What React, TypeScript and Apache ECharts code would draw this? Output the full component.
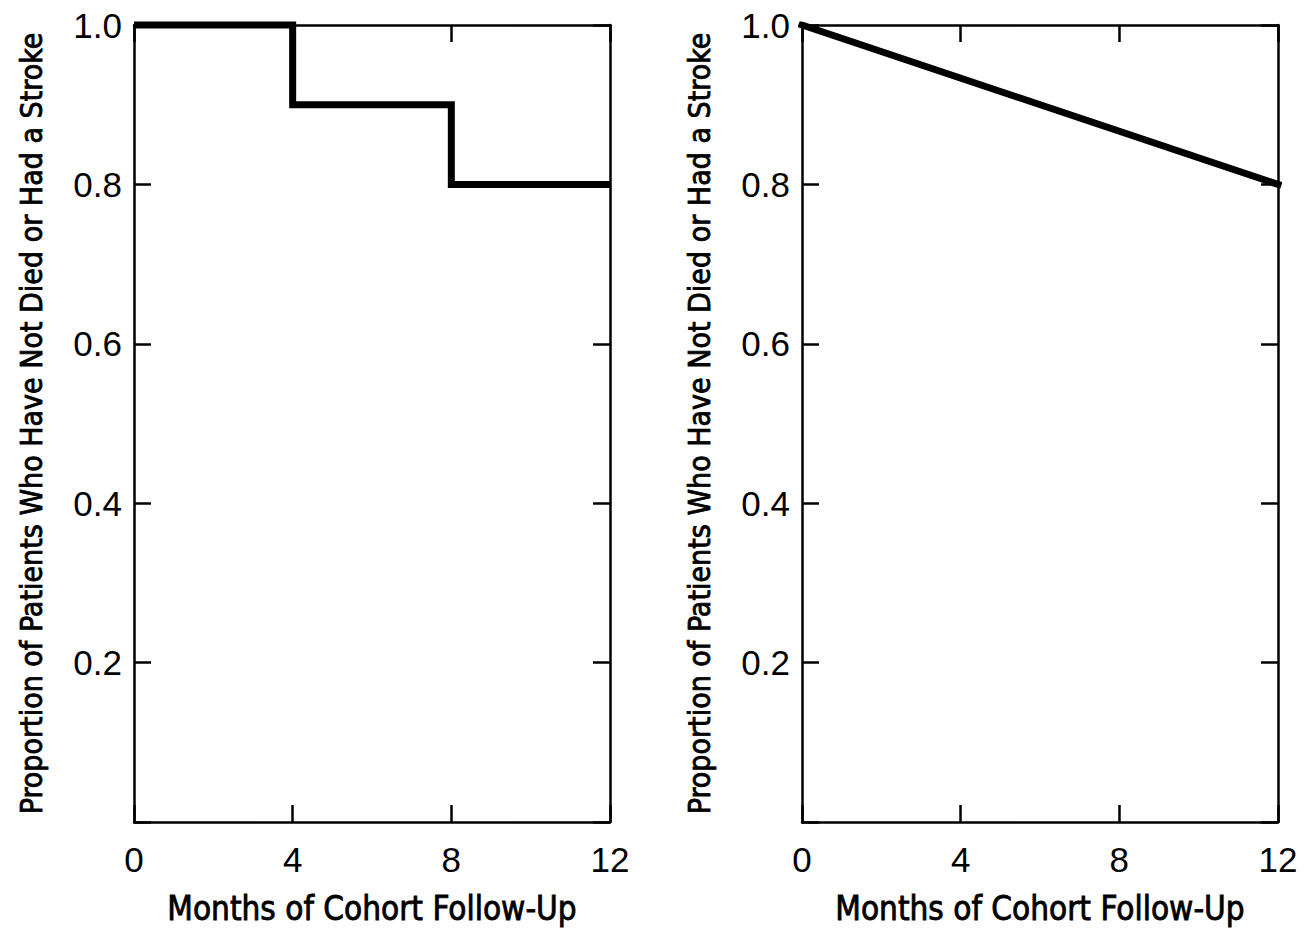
import React, { useEffect, useRef } from "react";
import * as echarts from "echarts";

const xTicks = [0, 4, 8, 12];
const yTickLabels = ["", "0.2", "0.4", "0.6", "0.8", "1.0"];
const stepSurvival: [number, number][] = [
  [0, 1.0],
  [4, 0.9],
  [8, 0.8],
  [12, 0.8],
];
const linearSurvival: [number, number][] = [
  [0, 1.0],
  [12, 0.8],
];
const yTitle = "Proportion of Patients Who Have Not Died or Had a Stroke";
const xTitle = "Months of Cohort Follow-Up";

const tickFont = "'Liberation Sans', Arial, sans-serif";
const titleFont = "'Liberation Sans Narrow', 'DejaVu Sans Condensed', sans-serif";

export default function App() {
  const ref = useRef<HTMLDivElement>(null);
  useEffect(() => {
    document.body.style.margin = "0";
    if (!ref.current) return;
    const chart = echarts.init(ref.current, null, { renderer: "svg" });
    const lineStyle = { color: "#000", width: 2.5 };
    const grids = [
      { left: 134, top: 25, width: 476, height: 797 },
      { left: 802, top: 25, width: 476, height: 797 },
    ];
    const titleStyle = {
      fontFamily: titleFont,
      color: "#000",
      textBorderColor: "#000",
      textBorderWidth: 0.8,
    };
    const xAxes: any[] = [];
    const yAxes: any[] = [];
    grids.forEach((_, gi) => {
      xAxes.push({
        type: "value",
        gridIndex: gi,
        position: "bottom",
        min: 0,
        max: 12,
        interval: 4,
        name: xTitle,
        nameLocation: "middle",
        nameGap: 70,
        nameTextStyle: { ...titleStyle, fontSize: 33 },
        axisLine: { show: true, onZero: false, lineStyle },
        axisTick: { show: true, inside: true, length: 17, lineStyle },
        axisLabel: {
          margin: 20,
          fontFamily: tickFont,
          fontSize: 35,
          color: "#000",
          formatter: (v: number) => (xTicks.includes(v) ? String(v) : ""),
        },
        splitLine: { show: false },
      });
      xAxes.push({
        type: "value",
        gridIndex: gi,
        position: "top",
        min: 0,
        max: 12,
        interval: 4,
        axisLine: { show: true, onZero: false, lineStyle },
        axisTick: { show: true, inside: true, length: 17, lineStyle },
        axisLabel: { show: false },
        splitLine: { show: false },
      });
      yAxes.push({
        type: "value",
        gridIndex: gi,
        position: "left",
        min: 0,
        max: 1,
        interval: 0.2,
        name: yTitle,
        nameLocation: "middle",
        nameGap: 88,
        nameTextStyle: { ...titleStyle, fontSize: 30 },
        axisLine: { show: true, onZero: false, lineStyle },
        axisTick: { show: true, inside: true, length: 17, lineStyle },
        axisLabel: {
          margin: 12,
          fontFamily: tickFont,
          fontSize: 35,
          color: "#000",
          formatter: (_v: number, i: number) => yTickLabels[i] ?? "",
        },
        splitLine: { show: false },
      });
      yAxes.push({
        type: "value",
        gridIndex: gi,
        position: "right",
        min: 0,
        max: 1,
        interval: 0.2,
        axisLine: { show: true, onZero: false, lineStyle },
        axisTick: { show: true, inside: true, length: 17, lineStyle },
        axisLabel: { show: false },
        splitLine: { show: false },
      });
    });
    chart.setOption({
      animation: false,
      backgroundColor: "#fff",
      grid: grids,
      xAxis: xAxes,
      yAxis: yAxes,
      series: [
        {
          type: "line",
          xAxisIndex: 0,
          yAxisIndex: 0,
          data: stepSurvival,
          step: "end",
          symbol: "none",
          clip: false,
          lineStyle: { color: "#000", width: 7, join: "miter", cap: "butt" },
        },
        {
          type: "line",
          xAxisIndex: 2,
          yAxisIndex: 2,
          data: linearSurvival,
          symbol: "none",
          clip: true,
          lineStyle: { color: "#000", width: 7, cap: "square" },
        },
      ],
    });
    return () => chart.dispose();
  }, []);
  return <div ref={ref} style={{ width: 1305, height: 931 }} />;
}
